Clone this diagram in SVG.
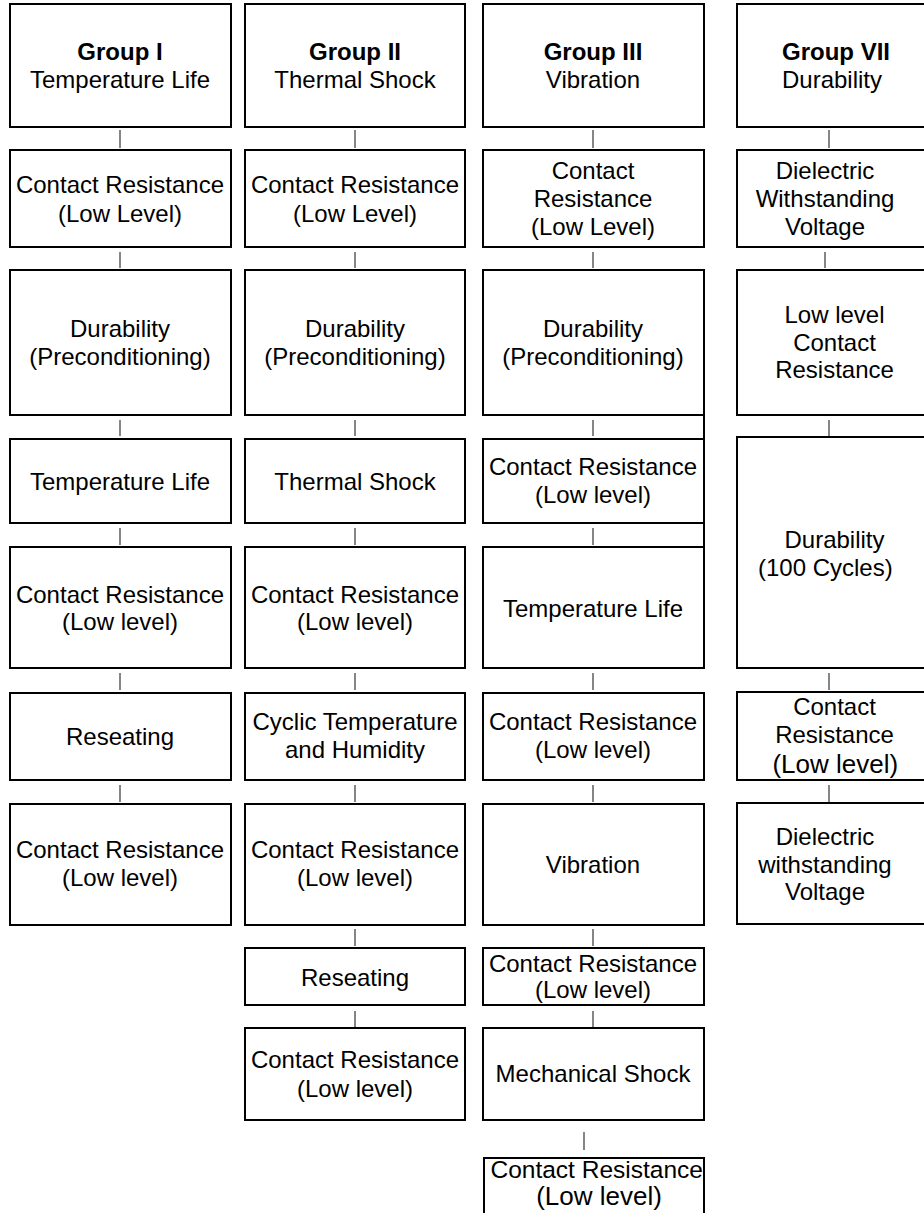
<svg xmlns="http://www.w3.org/2000/svg" width="924" height="1213" viewBox="0 0 924 1213">
<style>
.b{fill:#fff;stroke:#000;stroke-width:2}
.t{font-family:"Liberation Sans",Arial,sans-serif;font-size:24px;fill:#000;text-anchor:middle}
.h{font-weight:bold}
.c line{stroke:#444;stroke-width:1.3}
</style>
<rect width="924" height="1213" fill="#fff"/>
<g class="c" id="connectors">
<line x1="120" y1="130" x2="120" y2="148"/><line x1="120" y1="252" x2="120" y2="268"/><line x1="120" y1="420" x2="120" y2="436"/><line x1="120" y1="528" x2="120" y2="545"/><line x1="120" y1="673" x2="120" y2="690"/><line x1="120" y1="785" x2="120" y2="802"/>
<line x1="355" y1="130" x2="355" y2="148"/><line x1="355" y1="252" x2="355" y2="268"/><line x1="355" y1="420" x2="355" y2="436"/><line x1="355" y1="528" x2="355" y2="545"/><line x1="355" y1="673" x2="355" y2="690"/><line x1="355" y1="785" x2="355" y2="802"/><line x1="355" y1="929" x2="355" y2="946"/><line x1="355" y1="1011" x2="355" y2="1027"/>
<line x1="593" y1="130" x2="593" y2="148"/><line x1="593" y1="252" x2="593" y2="268"/><line x1="593" y1="420" x2="593" y2="436"/><line x1="593" y1="528" x2="593" y2="545"/><line x1="593" y1="673" x2="593" y2="690"/><line x1="593" y1="785" x2="593" y2="802"/><line x1="593" y1="929" x2="593" y2="946"/><line x1="593" y1="1011" x2="593" y2="1027"/><line x1="584" y1="1132" x2="584" y2="1150"/>
<line x1="829" y1="130" x2="829" y2="148"/><line x1="825" y1="252" x2="825" y2="268"/><line x1="829" y1="420" x2="829" y2="436"/><line x1="829" y1="673" x2="829" y2="690"/><line x1="829" y1="785" x2="829" y2="802"/>
<line x1="704" y1="415" x2="704" y2="547" style="stroke:#000;stroke-width:2"/>
</g>
<!-- Column 1 -->
<g id="g1-1"><rect class="b" x="10" y="4" width="221" height="123"/><text class="t h" x="120" y="60">Group I</text><text class="t" x="120" y="87.5">Temperature Life</text></g>
<g id="g1-2"><rect class="b" x="10" y="150" width="221" height="97"/><text class="t" x="120" y="193.3">Contact Resistance</text><text class="t" x="120" y="221.5">(Low Level)</text></g>
<g id="g1-3"><rect class="b" x="10" y="270" width="221" height="145"/><text class="t" x="120" y="336.7">Durability</text><text class="t" x="120" y="364.5">(Preconditioning)</text></g>
<g id="g1-4"><rect class="b" x="10" y="439" width="221" height="84"/><text class="t" x="120" y="490">Temperature Life</text></g>
<g id="g1-5"><rect class="b" x="10" y="547" width="221" height="121"/><text class="t" x="120" y="602.7">Contact Resistance</text><text class="t" x="120" y="630">(Low level)</text></g>
<g id="g1-6"><rect class="b" x="10" y="693" width="221" height="87"/><text class="t" x="120" y="745">Reseating</text></g>
<g id="g1-7"><rect class="b" x="10" y="804" width="221" height="121"/><text class="t" x="120" y="858.3">Contact Resistance</text><text class="t" x="120" y="886">(Low level)</text></g>
<!-- Column 2 -->
<g id="g2-1"><rect class="b" x="245" y="4" width="220" height="123"/><text class="t h" x="355" y="60">Group II</text><text class="t" x="355" y="87.5">Thermal Shock</text></g>
<g id="g2-2"><rect class="b" x="245" y="150" width="220" height="97"/><text class="t" x="355" y="193.3">Contact Resistance</text><text class="t" x="355" y="221.5">(Low Level)</text></g>
<g id="g2-3"><rect class="b" x="245" y="270" width="220" height="145"/><text class="t" x="355" y="336.7">Durability</text><text class="t" x="355" y="364.5">(Preconditioning)</text></g>
<g id="g2-4"><rect class="b" x="245" y="439" width="220" height="84"/><text class="t" x="355" y="490">Thermal Shock</text></g>
<g id="g2-5"><rect class="b" x="245" y="547" width="220" height="121"/><text class="t" x="355" y="602.7">Contact Resistance</text><text class="t" x="355" y="630">(Low level)</text></g>
<g id="g2-6"><rect class="b" x="245" y="693" width="220" height="87"/><text class="t" x="355" y="730">Cyclic Temperature</text><text class="t" x="355" y="758">and Humidity</text></g>
<g id="g2-7"><rect class="b" x="245" y="804" width="220" height="121"/><text class="t" x="355" y="858.3">Contact Resistance</text><text class="t" x="355" y="886">(Low level)</text></g>
<g id="g2-8"><rect class="b" x="245" y="948" width="220" height="57"/><text class="t" x="355" y="986">Reseating</text></g>
<g id="g2-9"><rect class="b" x="245" y="1028" width="220" height="92"/><text class="t" x="355" y="1068.3">Contact Resistance</text><text class="t" x="355" y="1096.7">(Low level)</text></g>
<!-- Column 3 -->
<g id="g3-1"><rect class="b" x="483" y="4" width="221" height="123"/><text class="t h" x="593" y="60">Group III</text><text class="t" x="593" y="87.5">Vibration</text></g>
<g id="g3-2"><rect class="b" x="483" y="150" width="221" height="97"/><text class="t" x="593" y="179.3">Contact</text><text class="t" x="593" y="207.3">Resistance</text><text class="t" x="593" y="234.5">(Low Level)</text></g>
<g id="g3-3"><rect class="b" x="483" y="270" width="221" height="145"/><text class="t" x="593" y="336.7">Durability</text><text class="t" x="593" y="364.5">(Preconditioning)</text></g>
<g id="g3-4"><rect class="b" x="483" y="439" width="221" height="84"/><text class="t" x="593" y="475">Contact Resistance</text><text class="t" x="593" y="503.3">(Low level)</text></g>
<g id="g3-5"><rect class="b" x="483" y="547" width="221" height="121"/><text class="t" x="593" y="616.7">Temperature Life</text></g>
<g id="g3-6"><rect class="b" x="483" y="693" width="221" height="87"/><text class="t" x="593" y="730">Contact Resistance</text><text class="t" x="593" y="758.3">(Low level)</text></g>
<g id="g3-7"><rect class="b" x="483" y="804" width="221" height="121"/><text class="t" x="593" y="873.3">Vibration</text></g>
<g id="g3-8"><rect class="b" x="483" y="948" width="221" height="57"/><text class="t" x="593" y="971.7">Contact Resistance</text><text class="t" x="593" y="997.5">(Low level)</text></g>
<g id="g3-9"><rect class="b" x="483" y="1028" width="221" height="92"/><text class="t" x="593" y="1081.7">Mechanical Shock</text></g>
<g id="g3-10"><rect class="b" x="484" y="1158" width="220" height="62"/><text class="t" x="596.7" y="1178" style="font-size:24.5px">Contact Resistance</text><text class="t" x="599" y="1205" style="font-size:26px">(Low level)</text></g>
<!-- Column 4 -->
<g id="g4-1"><rect class="b" x="737" y="4" width="222" height="123"/><text class="t h" x="836" y="60">Group VII</text><text class="t" x="832" y="87.5">Durability</text></g>
<g id="g4-2"><rect class="b" x="737" y="150" width="222" height="97"/><text class="t" x="825" y="179.3">Dielectric</text><text class="t" x="825" y="207.3">Withstanding</text><text class="t" x="825" y="234.5">Voltage</text></g>
<g id="g4-3"><rect class="b" x="737" y="270" width="222" height="145"/><text class="t" x="834.5" y="323.3">Low level</text><text class="t" x="834.5" y="350.7">Contact</text><text class="t" x="834.5" y="378.3">Resistance</text></g>
<g id="g4-4"><rect class="b" x="737" y="437" width="222" height="231"/><text class="t" x="834.5" y="548.3">Durability</text><text class="t" x="825.3" y="576">(100 Cycles)</text></g>
<g id="g4-5"><rect class="b" x="737" y="692" width="222" height="88"/><text class="t" x="834.5" y="715">Contact</text><text class="t" x="834.5" y="743.3">Resistance</text><text class="t" x="835.3" y="773.3" style="font-size:26px">(Low level)</text></g>
<g id="g4-6"><rect class="b" x="737" y="803" width="222" height="121"/><text class="t" x="825" y="845">Dielectric</text><text class="t" x="825" y="872.7">withstanding</text><text class="t" x="825" y="900">Voltage</text></g>
</svg>
